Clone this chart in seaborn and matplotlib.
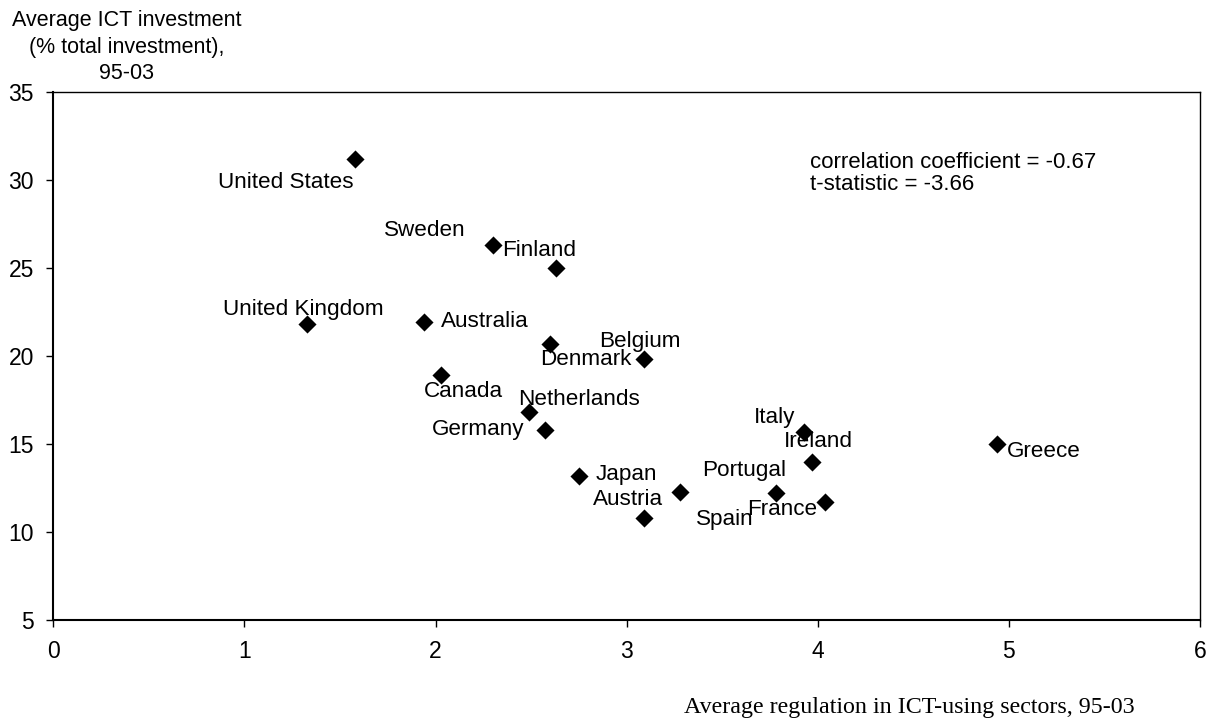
import matplotlib
matplotlib.use('Agg')
import pandas as pd
import seaborn as sns
from matplotlib import pyplot as plt

countries = ['United States', 'Sweden', 'Finland', 'United Kingdom', 'Australia',
             'Canada', 'Denmark', 'Belgium', 'Netherlands', 'Germany', 'Japan',
             'Austria', 'Spain', 'Italy', 'Ireland', 'Portugal', 'France', 'Greece']
regulation = [1.58, 2.30, 2.63, 1.33, 1.94,
              2.03, 2.60, 3.09, 2.49, 2.57, 2.75,
              3.28, 3.09, 3.93, 3.97, 3.78, 4.04, 4.94]
ict_share = [31.2, 26.3, 25.0, 21.8, 21.9,
             18.9, 20.7, 19.8, 16.8, 15.8, 13.2,
             12.3, 10.8, 15.7, 14.0, 12.2, 11.7, 15.0]
# label offsets from the marker, in pixels (x right, y up)
label_dx = [-69, -68, -17, -4, 61, 22, 36, -4, 50, -66, 47, -52, 81, -30, 6, -32, -43, 46]
label_dy = [-24, 14, 17, 15, 1, -16, -16, 18, 13, 0, 1, -8, -1, 14, 20, 23, -7, -7]

df = pd.DataFrame({'country': countries, 'regulation': regulation, 'ict': ict_share})

sns.set_style('white')
plt.rcParams['font.family'] = ['Liberation Sans', 'DejaVu Sans']
plt.rcParams['text.color'] = 'black'
plt.rcParams['xtick.color'] = 'black'
plt.rcParams['ytick.color'] = 'black'

fig = plt.figure(figsize=(12.11, 7.22), dpi=100)
ax = fig.add_axes([0.044, 0.141, 0.947, 0.732])

sns.scatterplot(data=df, x='regulation', y='ict', marker='D', s=85,
                color='black', edgecolor='black', linewidth=0, ax=ax, zorder=3)

for name, x, y, dx, dy in zip(countries, regulation, ict_share, label_dx, label_dy):
    ax.annotate(name, (x, y), xytext=(dx, dy), textcoords='offset pixels',
                ha='center', va='center', fontsize=16.2, color='black')

ax.set_xlim(0, 6)
ax.set_ylim(5, 35)
ax.set_xticks(range(0, 7))
ax.set_yticks(range(5, 40, 5))
ax.tick_params(axis='both', direction='out', length=5, width=1, color='black',
               labelsize=16.5, pad=9, bottom=True, left=True)
for side in ['top', 'right', 'bottom', 'left']:
    ax.spines[side].set_color('black')
    ax.spines[side].set_linewidth(1.0)
ax.spines['left'].set_linewidth(1.5)
ax.spines['bottom'].set_linewidth(1.5)

ax.set_xlabel('')
ax.set_ylabel('')
fig.text(127 / 1211, 1 - 47 / 722, 'Average ICT investment\n(% total investment),\n95-03',
         ha='center', va='center', fontsize=15.5, linespacing=1.32)
fig.text(909 / 1211, 1 - 707 / 722, 'Average regulation in ICT-using sectors, 95-03',
         ha='center', va='center', fontsize=17.3, family=['Liberation Serif', 'DejaVu Serif'])
ax.text(0.66, 0.845, 'correlation coefficient = -0.67\nt-statistic = -3.66',
        transform=ax.transAxes, ha='left', va='center', fontsize=16, linespacing=1.1)

fig.savefig('out.png', dpi=100)
